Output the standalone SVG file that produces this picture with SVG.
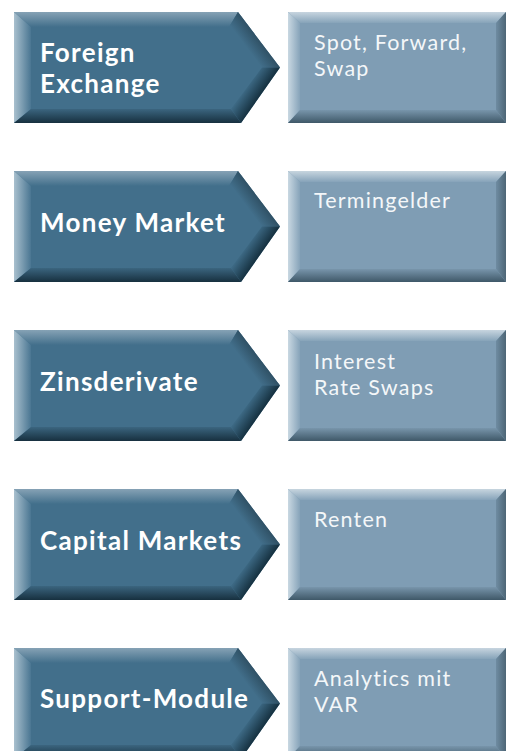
<svg xmlns="http://www.w3.org/2000/svg" xmlns:xlink="http://www.w3.org/1999/xlink" width="506" height="751" viewBox="0 0 506 751">
  <style>
    .lbl { font-family: Lato, "Open Sans", "DejaVu Sans", sans-serif; font-weight: 700; font-size: 26px; letter-spacing: 1.3px; fill: #ffffff; }
    .sub { font-family: Lato, "Open Sans", "DejaVu Sans", sans-serif; font-weight: 400; font-size: 21.5px; letter-spacing: 1.2px; fill: #f4f7f9; }
    .face-dark { fill: #426f8b; }
    .face-light { fill: #7f9db4; }
  </style>
  <defs>
    <!-- bevel shading, arrow (dark) -->
    <linearGradient id="aTop" gradientUnits="userSpaceOnUse" x1="0" y1="0" x2="0" y2="15">
      <stop offset="0" stop-color="#86a2b5"/><stop offset="1" stop-color="#426f8b"/>
    </linearGradient>
    <linearGradient id="aLeft" gradientUnits="userSpaceOnUse" x1="14" y1="0" x2="31" y2="0">
      <stop offset="0" stop-color="#a9c0ce"/><stop offset="1" stop-color="#4a7692"/>
    </linearGradient>
    <linearGradient id="aBottom" gradientUnits="userSpaceOnUse" x1="0" y1="111" x2="0" y2="97">
      <stop offset="0" stop-color="#17303f"/><stop offset="1" stop-color="#3b657f"/>
    </linearGradient>
    <linearGradient id="aUpRight" gradientUnits="userSpaceOnUse" x1="259" y1="27" x2="247" y2="36">
      <stop offset="0" stop-color="#2f5064"/><stop offset="1" stop-color="#426f8b"/>
    </linearGradient>
    <linearGradient id="aLowRight" gradientUnits="userSpaceOnUse" x1="261" y1="83" x2="248" y2="74">
      <stop offset="0" stop-color="#15303f"/><stop offset="1" stop-color="#3c6883"/>
    </linearGradient>
    <!-- bevel shading, box (light) -->
    <linearGradient id="bTop" gradientUnits="userSpaceOnUse" x1="0" y1="0" x2="0" y2="11">
      <stop offset="0" stop-color="#c7d5df"/><stop offset="1" stop-color="#86a3b9"/>
    </linearGradient>
    <linearGradient id="bLeft" gradientUnits="userSpaceOnUse" x1="288" y1="0" x2="300" y2="0">
      <stop offset="0" stop-color="#c9d8e2"/><stop offset="1" stop-color="#86a3b9"/>
    </linearGradient>
    <linearGradient id="bBottom" gradientUnits="userSpaceOnUse" x1="0" y1="111" x2="0" y2="98">
      <stop offset="0" stop-color="#3f5868"/><stop offset="1" stop-color="#7895ab"/>
    </linearGradient>
    <linearGradient id="bRight" gradientUnits="userSpaceOnUse" x1="506" y1="0" x2="496" y2="0">
      <stop offset="0" stop-color="#4d6676"/><stop offset="1" stop-color="#6f8ca2"/>
    </linearGradient>

    <!-- chevron shape, local coordinates (height 111) -->
    <g id="arrow">
      <polygon class="face-dark" points="14,0 238,0 280,55.5 241,111 14,111"/>
      <polygon fill="url(#aTop)" points="14,0 238,0 229,15 31,15"/>
      <polygon fill="url(#aLeft)" points="14,0 31,15 31,97 14,111"/>
      <polygon fill="url(#aBottom)" points="14,111 31,97 231,97 241,111"/>
      <polygon fill="url(#aUpRight)" points="238,0 280,55.5 262,55.5 229,15"/>
      <polygon fill="url(#aLowRight)" points="280,55.5 241,111 231,97 262,55.5"/>
    </g>
    <!-- detail panel shape -->
    <g id="panel">
      <rect class="face-light" x="288" y="0" width="218" height="111"/>
      <polygon fill="url(#bTop)" points="288,0 506,0 496,11 300,11"/>
      <polygon fill="url(#bLeft)" points="288,0 300,11 300,98 288,111"/>
      <polygon fill="url(#bBottom)" points="288,111 300,98 496,98 506,111"/>
      <polygon fill="url(#bRight)" points="506,0 506,111 496,98 496,11"/>
    </g>
  </defs>

  <g id="connectors"/>

  <g id="foreign-exchange" transform="translate(0,12)">
    <use xlink:href="#arrow"/>
    <text class="lbl" x="40" y="50">Foreign</text>
    <text class="lbl" x="40" y="81">Exchange</text>
  </g>
  <g id="foreign-exchange-detail" transform="translate(0,12)">
    <use xlink:href="#panel"/>
    <text class="sub" x="314" y="38">Spot, Forward,</text>
    <text class="sub" x="314" y="64">Swap</text>
  </g>

  <g id="money-market" transform="translate(0,171)">
    <use xlink:href="#arrow"/>
    <text class="lbl" x="40" y="61">Money Market</text>
  </g>
  <g id="money-market-detail" transform="translate(0,171)">
    <use xlink:href="#panel"/>
    <text class="sub" x="314" y="37">Termingelder</text>
  </g>

  <g id="zinsderivate" transform="translate(0,330)">
    <use xlink:href="#arrow"/>
    <text class="lbl" x="40" y="61">Zinsderivate</text>
  </g>
  <g id="zinsderivate-detail" transform="translate(0,330)">
    <use xlink:href="#panel"/>
    <text class="sub" x="314" y="39">Interest</text>
    <text class="sub" x="314" y="65">Rate Swaps</text>
  </g>

  <g id="capital-markets" transform="translate(0,489)">
    <use xlink:href="#arrow"/>
    <text class="lbl" x="40" y="61">Capital Markets</text>
  </g>
  <g id="capital-markets-detail" transform="translate(0,489)">
    <use xlink:href="#panel"/>
    <text class="sub" x="314" y="38">Renten</text>
  </g>

  <g id="support-module" transform="translate(0,648)">
    <use xlink:href="#arrow"/>
    <text class="lbl" x="40" y="60">Support-Module</text>
  </g>
  <g id="support-module-detail" transform="translate(0,648)">
    <use xlink:href="#panel"/>
    <text class="sub" x="314" y="38">Analytics mit</text>
    <text class="sub" x="314" y="64">VAR</text>
  </g>
</svg>
